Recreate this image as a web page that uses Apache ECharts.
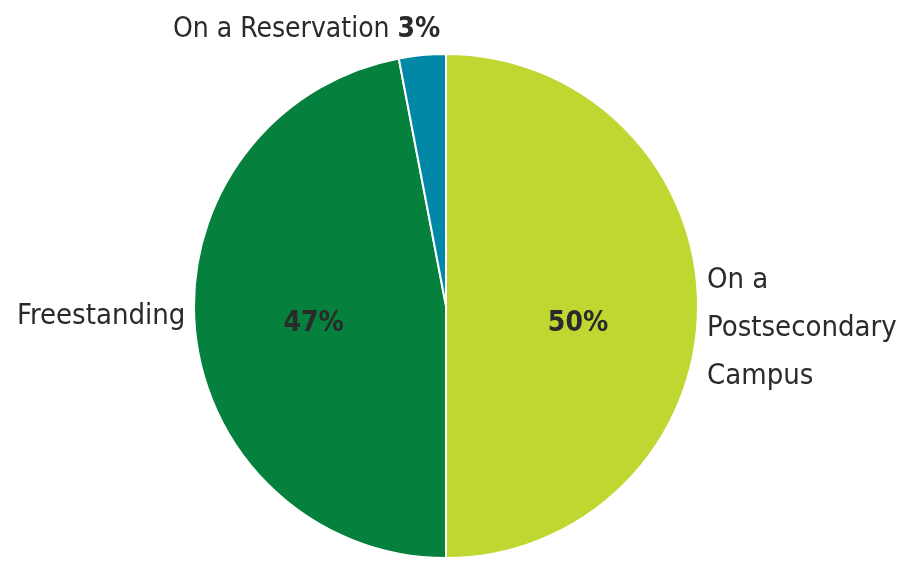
<!DOCTYPE html>
<html><head><meta charset="utf-8">
<script src="https://cdn.jsdelivr.net/npm/echarts@6/dist/echarts.min.js"></script>
<style>html,body{margin:0;padding:0;background:#fff}#c{width:908px;height:561px}</style>
</head><body><div id="c"></div>
<script>
const categories = ['On a Postsecondary Campus', 'Freestanding', 'On a Reservation'];
const values = [50, 47, 3];
const colors = ['#bfd730', '#05803d', '#0088a6'];
const FONT = '"DejaVu Sans Condensed", "Liberation Sans Narrow", sans-serif';
const TXT = '#2a2a2a';

const chart = echarts.init(document.getElementById('c'), null, {renderer: 'canvas'});
chart.setOption({
  animation: false,
  backgroundColor: '#fff',
  series: [{
    type: 'pie',
    center: [446, 306],
    radius: [0, 252],
    startAngle: 90,
    clockwise: true,
    avoidLabelOverlap: false,
    itemStyle: {borderColor: '#fff', borderWidth: 2},
    label: {
      show: true, position: 'inside',
      formatter: p => p.value + '%',
      fontFamily: FONT, fontSize: 28, fontWeight: 'bold', color: TXT
    },
    labelLine: {show: false},
    emphasis: {disabled: true},
    data: categories.map((c, i) => ({
      name: c, value: values[i],
      itemStyle: {color: colors[i]},
      label: i === 0 ? {offset: [3, 18]} : (i === 1 ? {offset: [-4, 6]} : {show: false})
    }))
  }],
  graphic: [
    {type: 'text', left: 173, top: 16, style: {
      text: '{n|On a Reservation }{b|' + values[2] + '%}',
      rich: {
        n: {fontFamily: FONT, fontSize: 28, fill: TXT, fontWeight: 'normal'},
        b: {fontFamily: FONT, fontSize: 28, fill: TXT, fontWeight: 'bold'}
      }
    }},
    {type: 'text', left: 17, top: 302, style: {
      text: 'Freestanding', fontFamily: FONT, fontSize: 29, fill: TXT
    }},
    {type: 'text', left: 707, top: 256, style: {
      text: 'On a\nPostsecondary\nCampus', fontFamily: FONT, fontSize: 29, fill: TXT, lineHeight: 48
    }}
  ]
});
</script></body></html>
